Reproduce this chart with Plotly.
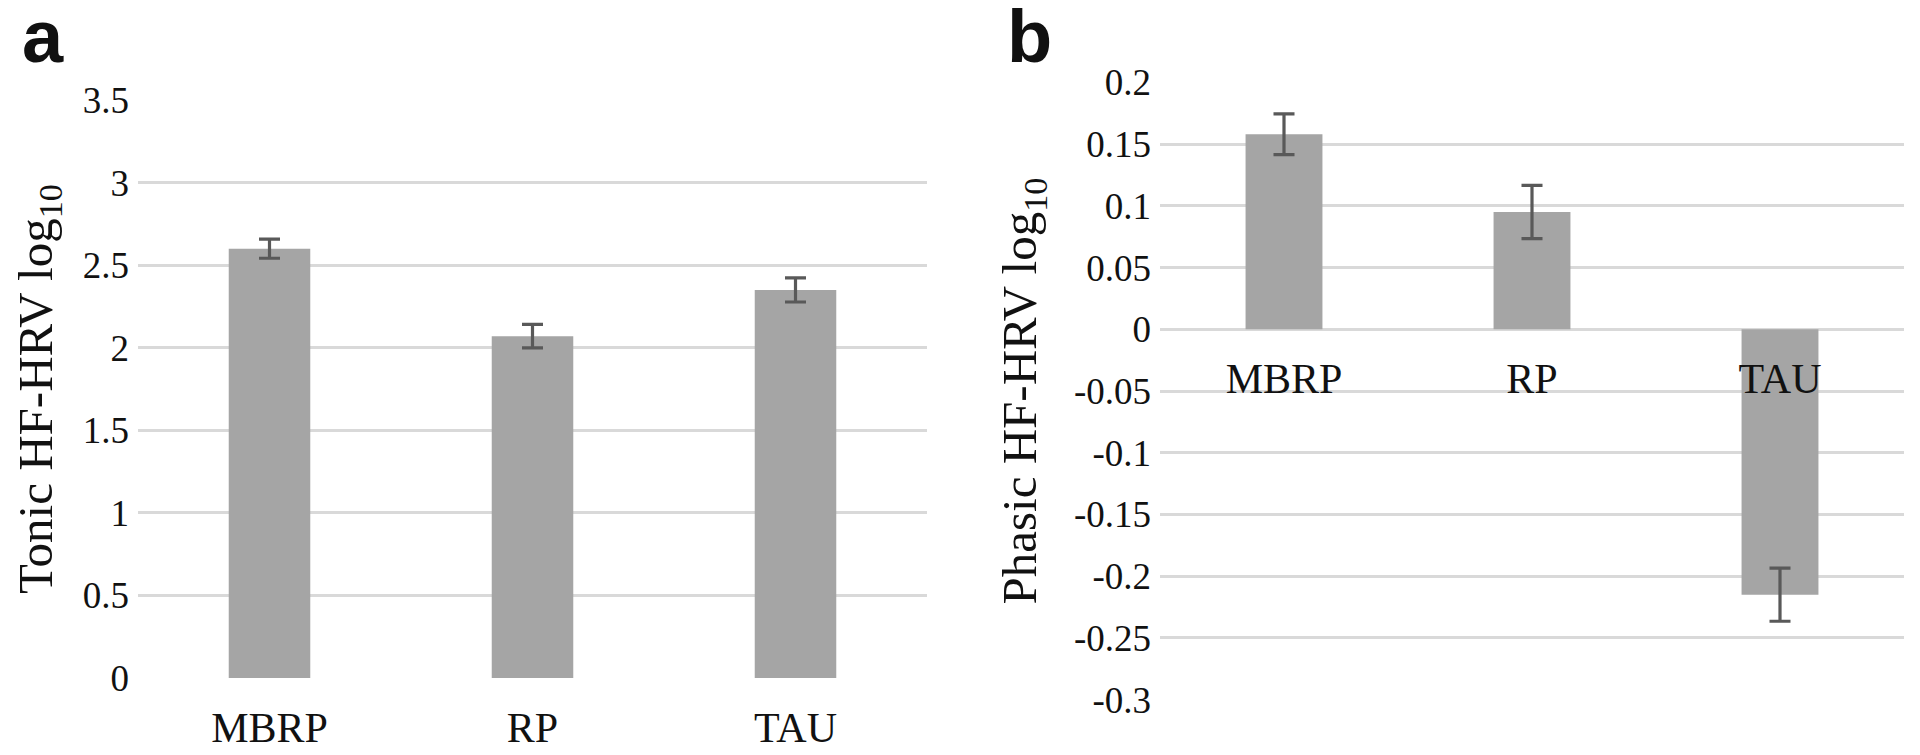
import plotly.graph_objects as go

# ---- data ----
groups = ["MBRP", "RP", "TAU"]
tonic_means = [2.60, 2.07, 2.35]
tonic_errors = [0.058, 0.071, 0.073]
phasic_means = [0.158, 0.095, -0.215]
phasic_errors = [0.0165, 0.0215, 0.0215]

tonic_tickvals = [0, 0.5, 1, 1.5, 2, 2.5, 3, 3.5]
tonic_ticktext = ["0", "0.5", "1", "1.5", "2", "2.5", "3", "3.5"]
phasic_tickvals = [-0.3, -0.25, -0.2, -0.15, -0.1, -0.05, 0, 0.05, 0.1, 0.15, 0.2]
phasic_ticktext = ["-0.3", "-0.25", "-0.2", "-0.15", "-0.1", "-0.05", "0", "0.05", "0.1", "0.15", "0.2"]

# ---- styles ----
OFF = 8  # page body margin in the browser
W, H = 1920 - 2 * OFF, 755 - 2 * OFF
BAR_COLOR = "#A5A5A5"
ERR_COLOR = "#595959"
GRID_COLOR = "#D9D9D9"
SERIF = "Liberation Serif"
SANS = "Liberation Sans"

def px_x(p):
    return (p - OFF) / W

def px_y(p):
    return (H - (p - OFF)) / H

fig = go.Figure()

fig.add_trace(go.Bar(
    x=groups, y=tonic_means, width=0.31,
    marker=dict(color=BAR_COLOR, line=dict(width=0)),
    error_y=dict(type="data", array=tonic_errors, visible=True,
                 color=ERR_COLOR, thickness=3.2, width=10.5),
    xaxis="x", yaxis="y", showlegend=False,
))
fig.add_trace(go.Bar(
    x=groups, y=phasic_means, width=0.31,
    marker=dict(color=BAR_COLOR, line=dict(width=0)),
    error_y=dict(type="data", array=phasic_errors, visible=True,
                 color=ERR_COLOR, thickness=3.2, width=10.5),
    xaxis="x2", yaxis="y2", showlegend=False,
))

ya_dom = [px_y(678), px_y(100)]
yb_dom = [px_y(700), px_y(82)]
yb_range = [-0.3, 0.2]
zero_pos = yb_dom[0] + (0 - yb_range[0]) / (yb_range[1] - yb_range[0]) * (yb_dom[1] - yb_dom[0])

tick_font = dict(family=SERIF, size=37, color="#111111")
cat_font = dict(family=SERIF, size=42, color="#111111")
title_font = dict(family=SERIF, size=49, color="#111111")

fig.update_layout(
    width=W, height=H,
    margin=dict(l=0, r=0, t=0, b=0),
    paper_bgcolor="white", plot_bgcolor="white",
    bargap=0.69,
    xaxis=dict(domain=[px_x(138), px_x(927)], anchor="y",
               showgrid=False, showline=False, zeroline=False, ticks="",
               tickfont=cat_font, ticklabelstandoff=21, automargin=False),
    yaxis=dict(domain=ya_dom, anchor="x", range=[-0.0005, 3.5005],
               tickvals=tonic_tickvals, ticktext=tonic_ticktext,
               showgrid=True, gridcolor=GRID_COLOR, gridwidth=3,
               zeroline=False, showline=False, ticks="",
               tickfont=tick_font, ticklabelstandoff=8, automargin=False,
               title=dict(text="Tonic HF-HRV log<sub>10</sub>", font=title_font, standoff=24)),
    xaxis2=dict(domain=[px_x(1160), px_x(1904)], anchor="free", position=zero_pos,
                showgrid=False, showline=False, zeroline=False, ticks="",
                tickfont=cat_font, ticklabelstandoff=21, automargin=False),
    yaxis2=dict(domain=yb_dom, anchor="x2", range=[-0.3003, 0.2003],
                tickvals=phasic_tickvals, ticktext=phasic_ticktext,
                showgrid=True, gridcolor=GRID_COLOR, gridwidth=3,
                zeroline=False, showline=False, ticks="",
                tickfont=tick_font, ticklabelstandoff=8, automargin=False,
                title=dict(text="Phasic HF-HRV log<sub>10</sub>", font=title_font, standoff=21)),
    annotations=[
        dict(text="<b>a</b>", x=px_x(20), y=px_y(80), xref="paper", yref="paper",
             xanchor="left", yanchor="bottom", showarrow=False,
             font=dict(family=SANS, size=74, color="#111111")),
        dict(text="<b>b</b>", x=px_x(1005), y=px_y(80), xref="paper", yref="paper",
             xanchor="left", yanchor="bottom", showarrow=False,
             font=dict(family=SANS, size=74, color="#111111")),
    ],
)

fig.write_html("out.html")
